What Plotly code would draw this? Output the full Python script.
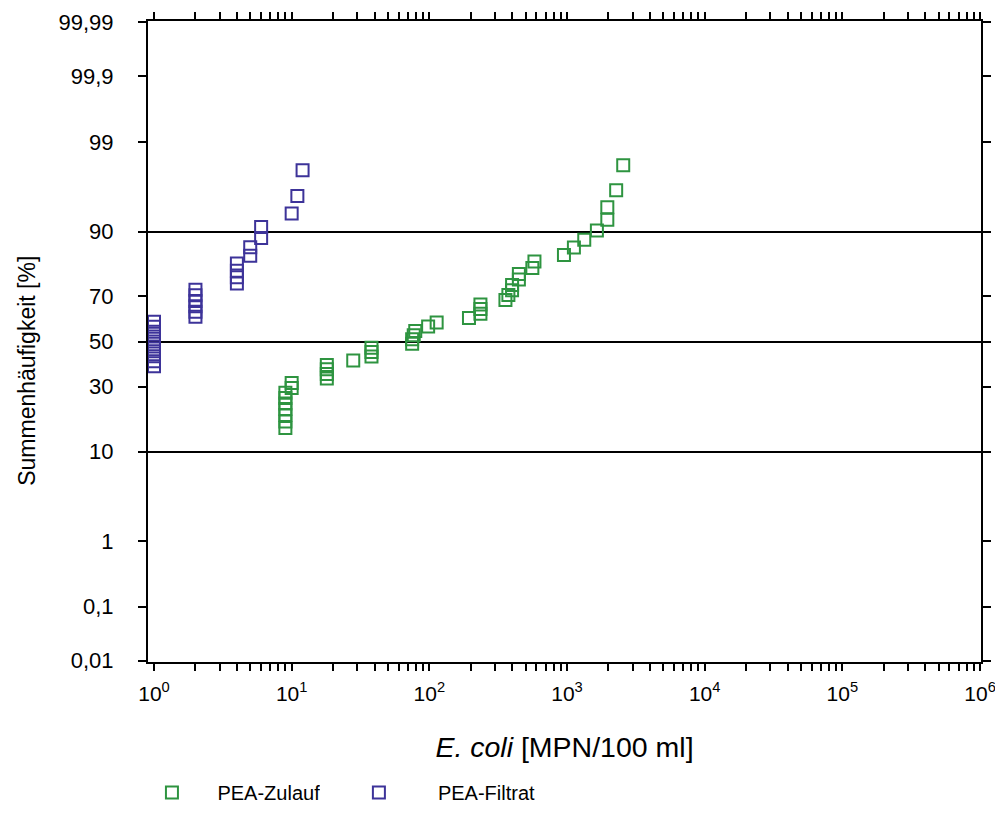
import statistics
import plotly.graph_objects as go

# ---- data (cumulative frequency in %) ----
zulauf_x = [9, 9, 9, 9, 9, 9, 9, 10, 10, 18, 18, 18, 18, 28, 38, 38, 38,
            75, 75, 77, 79, 98, 113, 194, 235, 235, 235, 357, 375, 399, 399,
            447, 447, 560, 580, 950, 1122, 1334, 1648, 1962, 1962, 2275, 2560]
zulauf_pct = [15.7, 17.6, 19.6, 21.6, 23.5, 25.5, 27.5, 29.4, 31.4, 33.3, 35.3,
              37.3, 39.2, 41.2, 43.1, 45.1, 47.1, 49.0, 51.0, 52.9, 54.9, 56.9,
              58.8, 60.8, 62.7, 64.7, 66.7, 68.6, 70.6, 72.5, 74.5, 76.5, 78.4,
              80.4, 82.4, 84.3, 86.3, 88.2, 90.2, 92.2, 94.1, 96.1, 98.0]

filtrat_x = [1, 1, 1, 1, 1, 1, 1, 1, 1, 1, 2, 2, 2, 2, 2, 2, 4, 4, 4, 4,
             5, 5, 6, 6, 10, 11, 12]
filtrat_pct = [38.6, 40.9, 43.2, 45.5, 47.7, 50.0, 52.3, 54.5, 56.8, 59.1,
               61.4, 63.6, 65.9, 68.2, 70.5, 72.7, 75.0, 77.3, 79.5, 81.8,
               84.1, 86.4, 88.6, 90.9, 93.2, 95.5, 97.7]

y_tick_pct = [0.01, 0.1, 1, 10, 30, 50, 70, 90, 99, 99.9, 99.99]
y_tick_text = ["0,01", "0,1", "1", "10", "30", "50", "70", "90", "99", "99,9", "99,99"]
grid_pct = [10, 50, 90]
x_decades = [0, 1, 2, 3, 4, 5, 6]

series_names = ["PEA-Zulauf", "PEA-Filtrat"]
colors = ["#2e9440", "#3d3399"]

# ---- probability (normal) scale ----
_nd = statistics.NormalDist()


def probit(p):
    return _nd.inv_cdf(p / 100.0)


FONT = "Liberation Sans, Arial, sans-serif"

fig = go.Figure()
for name, xs, ps, col, lg in [(series_names[0], zulauf_x, zulauf_pct, colors[0], "legend"),
                              (series_names[1], filtrat_x, filtrat_pct, colors[1], "legend2")]:
    fig.add_trace(go.Scatter(
        x=xs, y=[probit(p) for p in ps], mode="markers", name=name, legend=lg,
        marker=dict(symbol="square-open", size=12, color=col,
                    line=dict(width=2, color=col)),
    ))

# x ticks: decades labelled, 2..9 unlabelled
x_tickvals, x_ticktext = [], []
for d in x_decades:
    for m in range(1, 10):
        if d == x_decades[-1] and m > 1:
            break
        x_tickvals.append(m * 10 ** d)
        x_ticktext.append(f"10<sup>{d}</sup>" if m == 1 else "")

ylim = probit(99.99) + 0.015

legend_common = dict(orientation="h", xref="container", yref="container",
                     y=0.017, xanchor="left", yanchor="middle",
                     font=dict(size=20))

fig.update_layout(
    width=987, height=798,
    margin=dict(l=140, r=14, t=13, b=144, autoexpand=False),
    paper_bgcolor="white", plot_bgcolor="white",
    font=dict(family=FONT, size=22, color="black"),
    showlegend=True,
    legend=dict(legend_common, x=0.120, itemwidth=81),
    legend2=dict(legend_common, x=0.316, itemwidth=108),
    xaxis=dict(type="log", range=[-0.0436, 6.007], automargin=False,
               tickvals=x_tickvals, ticktext=x_ticktext,
               ticks="outside", ticklen=7, tickwidth=1.5, tickcolor="black",
               showline=True, linecolor="black", linewidth=2,
               mirror="allticks", showgrid=False, zeroline=False,
               tickfont=dict(size=21), ticklabelstandoff=5,
               ticklabeloverflow="allow",
               title=dict(text="<i>E. coli</i> [MPN/100 ml]",
                          font=dict(size=28.5), standoff=33)),
    yaxis=dict(range=[-ylim, ylim], automargin=False,
               tickvals=[probit(p) for p in y_tick_pct], ticktext=y_tick_text,
               ticks="outside", ticklen=8, tickwidth=1.5, tickcolor="black",
               showline=True, linecolor="black", linewidth=2,
               mirror="allticks", showgrid=False, zeroline=False,
               ticklabelstandoff=20, tickfont=dict(size=22),
               ticklabeloverflow="allow",
               minor=dict(tickvals=[probit(p) for p in grid_pct], showgrid=True,
                          gridcolor="black", gridwidth=2, ticks="")),
    annotations=[dict(text="Summenhäufigkeit [%]", textangle=-90,
                      xref="paper", yref="paper", x=-0.1455, y=0.454,
                      xanchor="center", yanchor="middle", showarrow=False,
                      font=dict(size=23))],
)

fig.write_html("out.html")
